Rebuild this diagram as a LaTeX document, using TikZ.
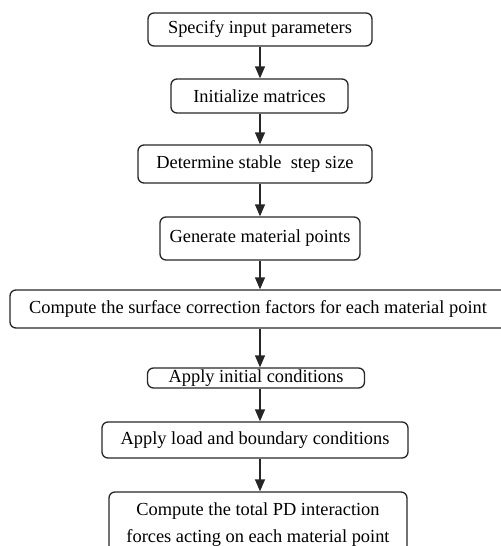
\documentclass[tikz,border=0pt]{standalone}
\usepackage{fontspec}
\setmainfont{Liberation Serif}
\usetikzlibrary{arrows.meta}

\tikzset{
  proc/.style={draw=black!85,line width=0.65pt,rounded corners=3pt,inner sep=0pt,
    font=\fontsize{9.2}{13.5}\selectfont,align=center},
  flow/.style={draw=black!85,line width=0.65pt,-{Triangle[width=5pt,length=6pt]}}
}

\begin{document}
\begin{tikzpicture}[x=0.5pt,y=-0.5pt]
        \useasboundingbox (0,0) rectangle (501,546);
        \clip (0,0) rectangle (501,546);
        \coordinate(ax) at (260,0);
        \node[proc,minimum width=112pt,minimum height=16.5pt](params) at (260,29.5) {Specify input parameters};
        \node[proc,minimum width=88.5pt,minimum height=17pt](matrices) at (259.5,96) {Initialize matrices};
        \node[proc,minimum width=117pt,minimum height=19pt](stepsize) at (255,164) {Determine stable\ \ step size};
        \node[proc,minimum width=100pt,minimum height=21.5pt](points) at (260,238.5) {Generate material points};
        \node[proc,minimum width=258pt,minimum height=19pt](surface) at (268,309) {\hspace*{-10pt}Compute the surface correction factors for each material point};
        \node[proc,minimum width=108.5pt,minimum height=10pt](initial) at (256,378) {Apply initial conditions};
        \node[proc,minimum width=153pt,minimum height=18pt](load) at (255,440) {Apply load and boundary conditions};
        \node[proc,minimum width=149pt,minimum height=33pt](forces) at (258,525) {Compute the total PD interaction\\forces acting on each material point};
        \draw[flow](params.south -| ax)--(matrices.north -| ax);
        \draw[flow](matrices.south -| ax)--(stepsize.north -| ax);
        \draw[flow](stepsize.south -| ax)--(points.north -| ax);
        \draw[flow](points.south -| ax)--(surface.north -| ax);
        \draw[flow](surface.south -| ax)--(initial.north -| ax);
        \draw[flow](initial.south -| ax)--(load.north -| ax);
        \draw[flow](load.south -| ax)--(forces.north -| ax);
    \end{tikzpicture}
\end{document}
